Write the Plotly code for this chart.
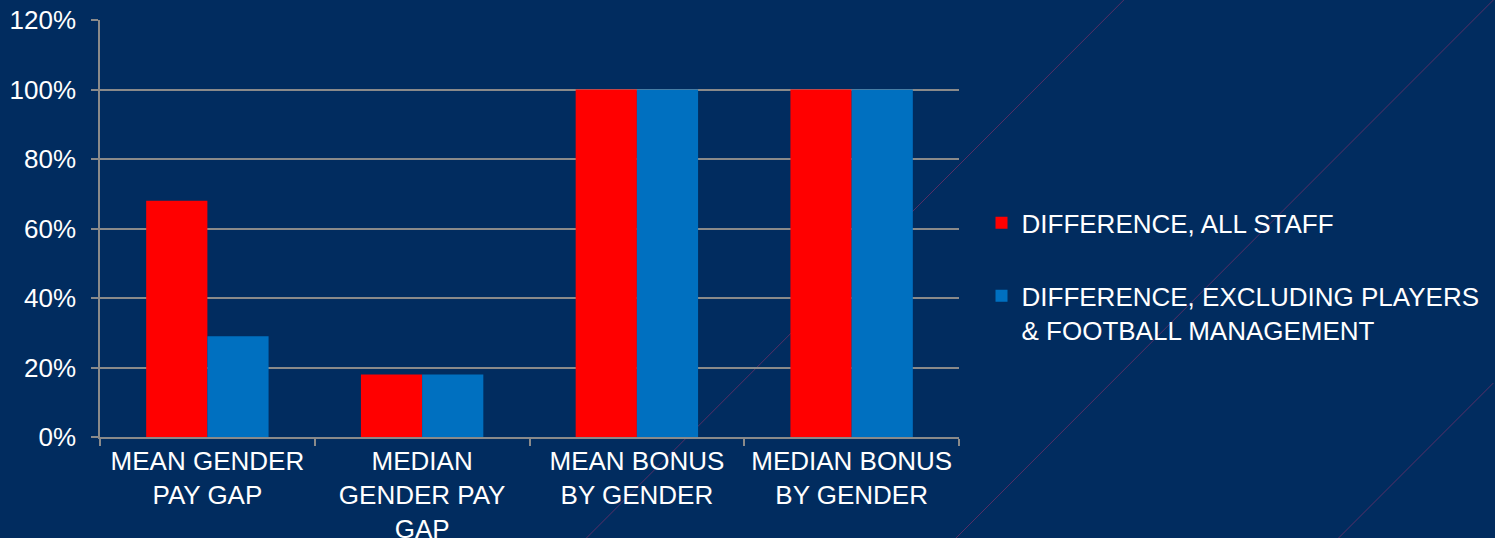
import plotly.graph_objects as go

categories = ["MEAN GENDER<br>PAY GAP", "MEDIAN<br>GENDER PAY<br>GAP", "MEAN BONUS<br>BY GENDER", "MEDIAN BONUS<br>BY GENDER"]
all_staff = [0.68, 0.18, 1.00, 1.00]
excl_players = [0.29, 0.18, 1.00, 1.00]
series_names = ["DIFFERENCE, ALL STAFF", "DIFFERENCE, EXCLUDING PLAYERS<br>& FOOTBALL MANAGEMENT"]
y_ticks = [0, 0.2, 0.4, 0.6, 0.8, 1.0, 1.2]

BG = "#012c5f"
GRID = "#8a8a8a"
FONT = "Liberation Sans, Arial, sans-serif"
FS = 26
W, H = 1495, 538

fig = go.Figure()
fig.add_trace(go.Bar(x=categories, y=all_staff, name=series_names[0],
                     marker=dict(color="#ff0000", line=dict(width=0)), legendgroup="a"))
fig.add_trace(go.Bar(x=categories, y=excl_players, name=series_names[1],
                     marker=dict(color="#0070c0", line=dict(width=0)), legendgroup="b"))

# decorative thin diagonal background lines (paper coordinates)
deco = [(587, 538, 1125, 0), (957, 538, 1495, 0), (1340, 538, 1495, 383)]
for x0, y0, x1, y1 in deco:
    fig.add_shape(type="line", xref="paper", yref="paper", layer="below",
                  x0=(x0 - 100) / 860, x1=(x1 - 100) / 860,
                  y0=(437 - y0) / 417, y1=(437 - y1) / 417,
                  line=dict(color="rgba(190,50,110,0.45)", width=1))

fig.update_layout(
    width=W, height=H,
    margin=dict(l=100, r=535, t=20, b=101),
    paper_bgcolor=BG, plot_bgcolor="rgba(0,0,0,0)",
    font=dict(family=FONT, size=FS, color="white"),
    barmode="group", bargap=0.43, bargroupgap=0,
    showlegend=True,
    legend=dict(x=1.025, xanchor="left", y=0.385, yanchor="middle",
                font=dict(size=FS, color="white"), traceorder="grouped",
                tracegroupgap=36, valign="top", bgcolor="rgba(0,0,0,0)"),
)
fig.update_yaxes(range=[0, 1.2], tickvals=y_ticks, tickformat=".0%",
                 showgrid=True, gridcolor=GRID, gridwidth=1.5,
                 showline=True, linecolor=GRID, linewidth=1.5,
                 ticks="outside", ticklen=7, tickcolor=GRID, tickwidth=1.5,
                 ticklabelstandoff=10, zeroline=False, automargin=False,
                 tickfont=dict(size=FS, color="white"))
fig.update_xaxes(showline=True, linecolor=GRID, linewidth=1.5,
                 ticks="outside", ticklen=7, tickcolor=GRID, tickwidth=1.5,
                 tickson="boundaries", showgrid=False, automargin=False,
                 tickfont=dict(size=FS, color="white"))

fig.write_html("out.html")
